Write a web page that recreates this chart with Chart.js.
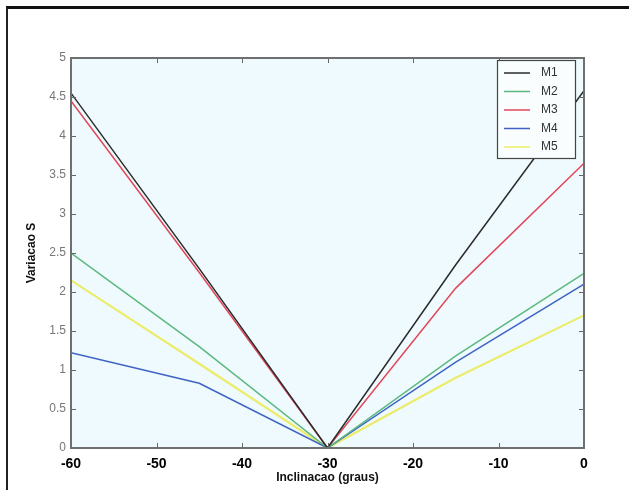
<!DOCTYPE html>
<html lang="pt-BR">
<head>
  <meta charset="UTF-8" />
  <title>Variacao S x Inclinacao</title>
  <script src="https://cdn.jsdelivr.net/npm/chart.js"></script>
  <style>
    html, body { margin: 0; padding: 0; background: #fff; }
    #quadro { position: relative; width: 629px; height: 490px; }
    #moldura { position: absolute; left: 6px; top: 6px; right: 0; bottom: 0;
               border-top: 3px solid #111; border-left: 2px solid #222; pointer-events: none; }
    canvas { position: absolute; left: 0; top: 0; }
  </style>
</head>
<body>
<div id="quadro">
  <canvas id="grafico" width="629" height="490"></canvas>
  <div id="moldura"></div>
</div>
<script>
// dados
const inclinacao = [-60, -45, -30, -15, 0];
const m1 = [4.55, 2.3, 0, 2.35, 4.58];
const m2 = [2.5, 1.3, 0, 1.18, 2.24];
const m3 = [4.45, 2.25, 0, 2.05, 3.65];
const m4 = [1.22, 0.83, 0, 1.1, 2.1];
const m5 = [2.15, 1.08, 0, 0.9, 1.7];
const nomes = ['M1', 'M2', 'M3', 'M4', 'M5'];
const cores = ['#2b2b2b', '#5cb87f', '#e2475a', '#3f63c4', '#ecec6a'];
const series = [m1, m2, m3, m4, m5];

const datasets = series.map((valores, i) => ({
  label: nomes[i],
  data: valores.map((v, j) => ({ x: inclinacao[j], y: v })),
  borderColor: cores[i],
  backgroundColor: cores[i],
  borderWidth: i === 4 ? 2.2 : 1.5,
  pointRadius: 0,
  tension: 0
}));

// fundo, caixa, marcas internas, legenda e titulos dos eixos (estilo matlab)
const estiloMatlab = {
  id: 'estiloMatlab',
  beforeDatasetsDraw(chart) {
    const { ctx, chartArea: a } = chart;
    ctx.save();
    ctx.fillStyle = '#eefafd';
    ctx.fillRect(a.left, a.top, a.right - a.left, a.bottom - a.top);
    ctx.restore();
  },
  afterDatasetsDraw(chart) {
    const { ctx, chartArea: a, scales } = chart;
    ctx.save();
    ctx.strokeStyle = '#666';
    ctx.lineWidth = 1;
    scales.x.ticks.forEach(t => {
      const px = Math.round(scales.x.getPixelForValue(t.value)) + 0.5;
      ctx.beginPath();
      ctx.moveTo(px, a.bottom); ctx.lineTo(px, a.bottom - 5);
      ctx.moveTo(px, a.top); ctx.lineTo(px, a.top + 5);
      ctx.stroke();
    });
    scales.y.ticks.forEach(t => {
      const py = Math.round(scales.y.getPixelForValue(t.value)) + 0.5;
      ctx.beginPath();
      ctx.moveTo(a.left, py); ctx.lineTo(a.left + 5, py);
      ctx.moveTo(a.right, py); ctx.lineTo(a.right - 5, py);
      ctx.stroke();
    });
    ctx.strokeStyle = '#6f6f6f';
    ctx.lineWidth = 2;
    ctx.strokeRect(a.left, a.top, a.right - a.left, a.bottom - a.top);

    // legenda
    const lx = 497, ly = 60, lw = 78, lh = 98;
    ctx.fillStyle = '#f9fdfd';
    ctx.fillRect(lx, ly, lw, lh);
    ctx.strokeStyle = '#444';
    ctx.lineWidth = 1.2;
    ctx.strokeRect(lx + 0.5, ly + 0.5, lw, lh);
    ctx.font = '12px "Liberation Sans", Arial, sans-serif';
    ctx.textBaseline = 'middle';
    ctx.textAlign = 'left';
    chart.data.datasets.forEach((ds, i) => {
      const y = ly + 13 + i * 18.5;
      ctx.strokeStyle = ds.borderColor;
      ctx.lineWidth = 1.5;
      ctx.beginPath();
      ctx.moveTo(lx + 7, y); ctx.lineTo(lx + 33, y);
      ctx.stroke();
      ctx.fillStyle = '#333';
      ctx.fillText(ds.label, lx + 44, y);
    });

    // titulos
    ctx.fillStyle = '#111';
    ctx.font = 'bold 12px "Liberation Sans", Arial, sans-serif';
    ctx.textAlign = 'center';
    ctx.fillText('Inclinacao (graus)', (a.left + a.right) / 2, 478);
    ctx.translate(32, (a.top + a.bottom) / 2);
    ctx.rotate(-Math.PI / 2);
    ctx.fillText('Variacao S', 0, 0);
    ctx.restore();
  }
};

new Chart(document.getElementById('grafico').getContext('2d'), {
  type: 'line',
  data: { datasets },
  options: {
    responsive: false,
    animation: false,
    layout: { padding: { left: 0, top: 58, right: 45, bottom: 0 } },
    plugins: { legend: { display: false }, tooltip: { enabled: false } },
    scales: {
      x: {
        type: 'linear', min: -60, max: 0,
        grid: { display: false, drawTicks: false },
        border: { display: false },
        ticks: { stepSize: 10, padding: 8, color: '#000',
                 font: { family: '"Liberation Sans", Arial, sans-serif', size: 14, weight: 'bold' } },
        afterFit(s) { s.height = 42; }
      },
      y: {
        min: 0, max: 5,
        grid: { display: false, drawTicks: false },
        border: { display: false },
        ticks: { stepSize: 0.5, padding: 5, color: '#777',
                 callback: v => String(v),
                 font: { family: '"Liberation Sans", Arial, sans-serif', size: 12 } },
        afterFit(s) { s.width = 71; }
      }
    }
  },
  plugins: [estiloMatlab]
});
</script>
</body>
</html>
